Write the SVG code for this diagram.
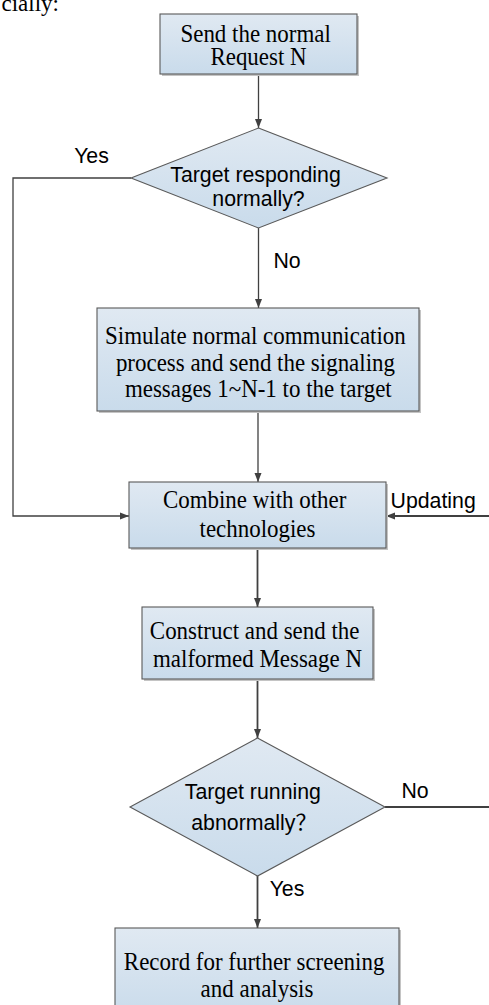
<svg xmlns="http://www.w3.org/2000/svg" width="489" height="1005" viewBox="0 0 489 1005">
  <defs>
    <linearGradient id="fillGrad" x1="0" y1="0" x2="0" y2="1">
      <stop offset="0" stop-color="#e0e9f2"/>
      <stop offset="1" stop-color="#c9dbeb"/>
    </linearGradient>
    <marker id="arrow" markerUnits="userSpaceOnUse" markerWidth="10" markerHeight="8" refX="9" refY="4" orient="auto">
      <path d="M0,0.5 L9,4 L0,7.5 z" fill="#404040"/>
    </marker>
    <style>
      .box { fill: url(#fillGrad); stroke: #595959; stroke-width: 1.1; }
      .shadow { fill: #c4c4c4; }
      .serif { font-family: "Liberation Serif", "Times New Roman", serif; font-size: 25.5px; fill: #000; text-anchor: middle; }
      .sans { font-family: "Liberation Sans", Arial, "Noto Sans CJK SC", sans-serif; font-size: 21.3px; fill: #000; }
      .mid { text-anchor: middle; }
      .conn { fill: none; stroke: #404040; stroke-width: 1.3; }
      .conn.thick { stroke-width: 1.8; }
    </style>
  </defs>

  <!-- tail of the preceding paragraph -->
  <text x="59" y="11" font-family="Liberation Serif, serif" font-size="23" fill="#000" text-anchor="end">cially:</text>

  <!-- connectors -->
  <g id="connectors">
    <path class="conn" d="M258.5,74 V128" marker-end="url(#arrow)"/>
    <path class="conn" d="M131,178 H13 V516 H129" marker-end="url(#arrow)"/>
    <path class="conn" d="M258.5,228 V308" marker-end="url(#arrow)"/>
    <path class="conn" d="M258,411 V482" marker-end="url(#arrow)"/>
    <path class="conn thick" d="M489,516 H386" marker-end="url(#arrow)"/>
    <path class="conn thick" d="M257.5,548 V607" marker-end="url(#arrow)"/>
    <path class="conn thick" d="M257.5,679 V738" marker-end="url(#arrow)"/>
    <path class="conn thick" d="M385,807 H489"/>
    <path class="conn thick" d="M257.5,876 V928" marker-end="url(#arrow)"/>
    <text class="sans mid" x="91.5" y="162.7">Yes</text>
    <text class="sans mid" x="287" y="268">No</text>
    <text class="sans" x="390.5" y="508">Updating</text>
    <text class="sans mid" x="415" y="798">No</text>
    <text class="sans mid" x="287" y="896">Yes</text>
  </g>

  <g id="send-request">
    <rect class="shadow" x="162" y="16" width="197" height="60"/>
    <rect class="box" x="160" y="14" width="197" height="60"/>
    <text class="serif" transform="translate(258.5 0) scale(0.9 1)">
      <tspan x="0" y="42.3">Send the normal</tspan>
      <tspan x="0" y="65.5">Request N</tspan>
    </text>
  </g>

  <g id="target-responding">
    <polygon class="box" points="258.5,128 387,178 258.5,228 131,178"/>
    <text class="sans mid">
      <tspan x="258.5" y="181.7">Target responding</tspan>
      <tspan x="258.5" y="206">normally?</tspan>
    </text>
  </g>

  <g id="simulate-process">
    <rect class="shadow" x="99" y="310" width="322" height="103"/>
    <rect class="box" x="97" y="308" width="322" height="103"/>
    <text class="serif" transform="translate(258.3 0) scale(0.9 1)">
      <tspan x="0" y="344">Simulate normal communication</tspan>
      <tspan x="0" y="370.7">process and send the signaling</tspan>
      <tspan x="0" y="397.3">messages 1~N-1 to the target</tspan>
    </text>
  </g>

  <g id="combine">
    <rect class="shadow" x="131" y="484" width="257" height="66"/>
    <rect class="box" x="129" y="482" width="257" height="66"/>
    <text class="serif" transform="translate(257.5 0) scale(0.9 1)">
      <tspan x="0" y="508.3">Combine with other</tspan>
      <tspan x="0" y="536.7">technologies</tspan>
    </text>
  </g>

  <g id="construct-message">
    <rect class="shadow" x="144" y="609" width="231" height="72"/>
    <rect class="box" x="142" y="607" width="231" height="72"/>
    <text class="serif" transform="translate(257.5 0) scale(0.9 1)">
      <tspan x="0" y="639">Construct and send the</tspan>
      <tspan x="0" y="667.3">malformed Message N</tspan>
    </text>
  </g>

  <g id="target-running">
    <polygon class="box" points="257.5,738 385,807 257.5,876 130,807"/>
    <text class="sans mid">
      <tspan x="255.8" y="799.3">Target running</tspan>
      <tspan x="254" y="830">abnormally？</tspan>
    </text>
  </g>

  <g id="record">
    <rect class="shadow" x="117" y="930" width="284" height="90"/>
    <rect class="box" x="115" y="928" width="284" height="90"/>
    <text class="serif" transform="translate(257 0) scale(0.9 1)">
      <tspan x="0" y="970">Record for further screening</tspan>
      <tspan x="0" y="996.7">and analysis</tspan>
    </text>
  </g>
</svg>
